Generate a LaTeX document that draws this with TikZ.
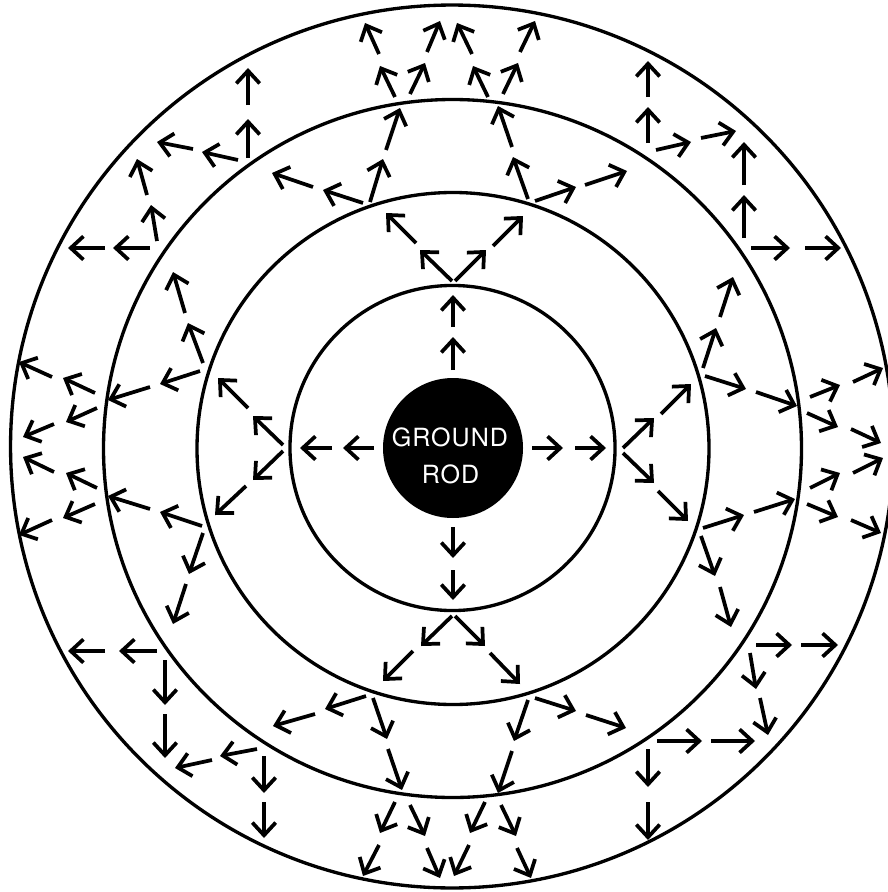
\documentclass[tikz,border=0pt]{standalone}
\usepackage{fontspec}
\newfontfamily\rodfont[LetterSpace=4]{TeX Gyre Heros}
\usetikzlibrary{arrows.meta}
\tikzset{
  arr/.style={-{Straight Barb[length=9.5pt,width=17.5pt]}, line width=2.8pt},
  ring/.style={draw=black, line width=2.5pt},
  lbl/.style={text=white, font=\rodfont\fontsize{18.8pt}{22pt}\selectfont, anchor=base, inner sep=0pt}
}
\begin{document}
\begin{tikzpicture}[x=0.75pt,y=-0.75pt]
\useasboundingbox (0,0) rectangle (888,892);
% rings
\draw[ring] (452,446.5) circle[radius=331.1pt];
\draw[ring] (452.5,448.5) circle[radius=261.75pt];
\draw[ring] (453,448.5) circle[radius=192pt];
\draw[ring] (452.5,448) circle[radius=121.9pt];
\fill[black] (453,448) circle[radius=52.5pt];
\node[lbl] (g) at (450,446.7) {GROUND};
\node[lbl] (r) at (450.5,483.3) {ROD};
% ring 1
\draw[arr] (453,370)--(453,337); \draw[arr] (453,327)--(453,295);
\draw[arr] (453,527)--(453,558); \draw[arr] (453,570)--(453,600);
\draw[arr] (374,448)--(343,448); \draw[arr] (332,448)--(300,448);
\draw[arr] (532,448)--(563,448); \draw[arr] (575,448)--(606,448);
% ring 2
\draw[arr] (452,281)--(420,250); \draw[arr] (416,243)--(386,213);
\draw[arr] (455,281)--(486,250); \draw[arr] (493,246)--(523,216);
\draw[arr] (283,445)--(253,416); \draw[arr] (248,408)--(218,378);
\draw[arr] (283,451)--(253,480); \draw[arr] (246,486)--(215,515);
\draw[arr] (623,448)--(654,418); \draw[arr] (661,414)--(691,384);
\draw[arr] (623,453)--(654,483); \draw[arr] (658,491)--(688,521);
\draw[arr] (452,616)--(421,646); \draw[arr] (413,651)--(383,681);
\draw[arr] (455,616)--(485,646); \draw[arr] (490,653)--(520,684);
% ring 3
\draw[arr] (363,203)--(323,190); \draw[arr] (313,187)--(272,173);
\draw[arr] (370,202)--(383,159); \draw[arr] (386,150)--(400,108);
\draw[arr] (528,199)--(513,157); \draw[arr] (512,147)--(498,106);
\draw[arr] (535,201)--(576,187); \draw[arr] (585,185)--(627,171);
\draw[arr] (703,368)--(716,328); \draw[arr] (720,317)--(733,277);
\draw[arr] (705,376)--(746,389); \draw[arr] (756,392)--(797,406);
\draw[arr] (703,528)--(744,515); \draw[arr] (754,512)--(795,499);
\draw[arr] (701,536)--(715,576); \draw[arr] (720,587)--(731,627);
\draw[arr] (528,700)--(514,741); \draw[arr] (512,751)--(498,793);
\draw[arr] (535,698)--(576,711); \draw[arr] (586,715)--(626,728);
\draw[arr] (366,696)--(325,709); \draw[arr] (315,714)--(273,726);
\draw[arr] (373,698)--(387,739); \draw[arr] (388,749)--(402,790);
\draw[arr] (202,526)--(160,512); \draw[arr] (150,509)--(108,496);
\draw[arr] (203,533)--(189,574); \draw[arr] (186,584)--(173,624);
\draw[arr] (203,363)--(188,323); \draw[arr] (185,313)--(173,272);
\draw[arr] (200,371)--(160,384); \draw[arr] (150,387)--(108,400);
% ring 4 top
\draw[arr] (395,97)--(380,66); \draw[arr] (379,54)--(365,23);
\draw[arr] (410,94)--(425,63); \draw[arr] (427,52)--(440,21);
\draw[arr] (488,97)--(473,66); \draw[arr] (472,54)--(457,23);
\draw[arr] (503,94)--(518,63); \draw[arr] (520,52)--(535,21);
% ring 4 bottom
\draw[arr] (395,802)--(380,833); \draw[arr] (379,845)--(363,876);
\draw[arr] (410,805)--(425,836); \draw[arr] (427,848)--(440,878);
\draw[arr] (485,802)--(470,833); \draw[arr] (469,845)--(454,876);
\draw[arr] (501,805)--(516,836); \draw[arr] (517,848)--(531,878);
% ring 4 left
\draw[arr] (95,393)--(63,378); \draw[arr] (52,377)--(19,362);
\draw[arr] (97,408)--(66,422); \draw[arr] (54,424)--(23,437);
\draw[arr] (97,488)--(66,473); \draw[arr] (54,472)--(23,457);
\draw[arr] (95,504)--(63,518); \draw[arr] (52,520)--(19,535);
% ring 4 right
\draw[arr] (810,397)--(840,385); \draw[arr] (853,382)--(883,368);
\draw[arr] (807,413)--(838,427); \draw[arr] (851,429)--(881,443);
\draw[arr] (810,488)--(840,473); \draw[arr] (853,473)--(883,458);
\draw[arr] (807,504)--(838,517); \draw[arr] (851,520)--(881,533);
% ring 4 top-left
\draw[arr] (248,158)--(248,119); \draw[arr] (248,105)--(248,68);
\draw[arr] (238,160)--(202,152); \draw[arr] (193,149)--(157,142);
\draw[arr] (157,241)--(151,205); \draw[arr] (147,195)--(137,159);
\draw[arr] (150,248)--(113,248); \draw[arr] (105,248)--(68,248);
% ring 4 top-right
\draw[arr] (648,143)--(648,107); \draw[arr] (648,97)--(648,61);
\draw[arr] (656,150)--(691,142); \draw[arr] (701,138)--(736,131);
\draw[arr] (744,238)--(744,195); \draw[arr] (744,185)--(744,142);
\draw[arr] (751,248)--(790,248); \draw[arr] (805,248)--(841,248);
% ring 4 bottom-left
\draw[arr] (157,651)--(119,651); \draw[arr] (105,651)--(68,651);
\draw[arr] (165,660)--(165,705); \draw[arr] (165,714)--(165,758);
\draw[arr] (257,749)--(220,756); \draw[arr] (212,760)--(175,768);
\draw[arr] (264,756)--(264,793); \draw[arr] (264,802)--(264,838);
% ring 4 bottom-right
\draw[arr] (756,645)--(792,645); \draw[arr] (801,645)--(838,645);
\draw[arr] (750,653)--(756,689); \draw[arr] (760,698)--(768,735);
\draw[arr] (657,741)--(702,741); \draw[arr] (711,741)--(755,741);
\draw[arr] (648,749)--(648,787); \draw[arr] (648,802)--(648,840);
\end{tikzpicture}
\end{document}
